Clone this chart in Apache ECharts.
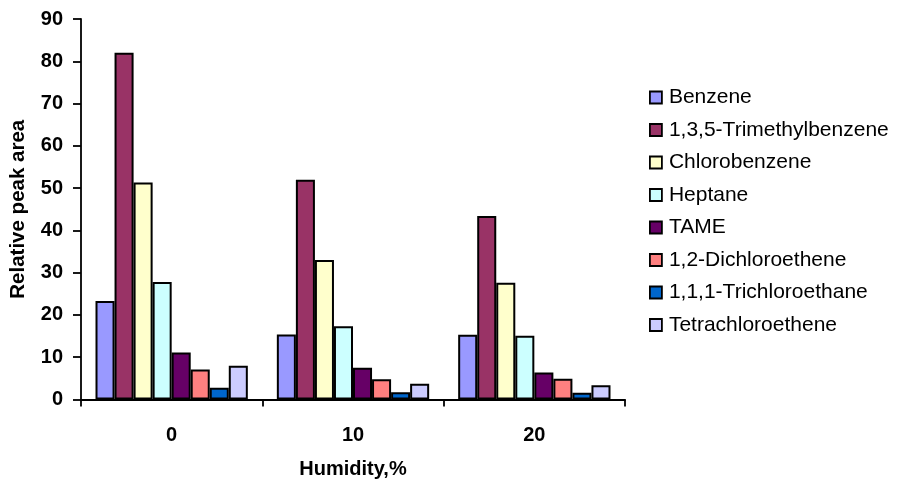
<!DOCTYPE html>
<html>
<head>
<meta charset="utf-8">
<script src="https://cdn.jsdelivr.net/npm/echarts@6/dist/echarts.min.js"></script>
<style>
  html, body { margin: 0; padding: 0; background: #fff; }
  #chart { width: 899px; height: 486px; }
</style>
</head>
<body>
<div id="chart"></div>
<script>
// Humidity levels (%) on the category axis
const humidity = ['0', '10', '20'];

// Relative peak area per compound at each humidity level
const benzene = [23.3, 15.4, 15.3];
const trimethylbenzene = [82.0, 52.0, 43.4];
const chlorobenzene = [51.3, 33.0, 27.6];
const heptane = [27.8, 17.3, 15.1];
const tame = [11.1, 7.5, 6.4];
const dichloroethene = [7.1, 4.8, 4.9];
const trichloroethane = [2.8, 1.7, 1.6];
const tetrachloroethene = [8.0, 3.7, 3.4];

const seriesNames = [
  'Benzene', '1,3,5-Trimethylbenzene', 'Chlorobenzene', 'Heptane',
  'TAME', '1,2-Dichloroethene', '1,1,1-Trichloroethane', 'Tetrachloroethene'
];
const seriesData = [
  benzene, trimethylbenzene, chlorobenzene, heptane,
  tame, dichloroethene, trichloroethane, tetrachloroethene
];
const seriesColors = [
  '#9999FF', '#993366', '#FFFFCC', '#CCFFFF',
  '#660066', '#FF8080', '#0066CC', '#CCCCFF'
];

const FONT = 'Arial, "Liberation Sans", sans-serif';

const chart = echarts.init(document.getElementById('chart'), null, { renderer: 'canvas' });

chart.setOption({
  animation: false,
  backgroundColor: '#ffffff',
  textStyle: { fontFamily: FONT },
  grid: { left: 81, right: 274, top: 19, bottom: 86.5, containLabel: false },
  legend: {
    orient: 'vertical',
    left: 644,
    top: 82,
    itemWidth: 12,
    itemHeight: 12,
    itemGap: 11.5,
    icon: 'rect',
    textStyle: { fontFamily: FONT, fontSize: 21, lineHeight: 21, color: '#000', padding: [0, 0, 0, 2] },
    itemStyle: { borderColor: '#000', borderWidth: 1.8 },
    data: seriesNames
  },
  xAxis: {
    type: 'category',
    data: humidity,
    name: 'Humidity,%',
    nameLocation: 'middle',
    nameGap: 60,
    nameTextStyle: { fontFamily: FONT, fontSize: 20, fontWeight: 'bold', color: '#000' },
    axisLine: { lineStyle: { color: '#000', width: 1.8 } },
    axisTick: { show: true, length: 7, alignWithLabel: false, lineStyle: { color: '#000', width: 1.8 } },
    axisLabel: { margin: 26, fontFamily: FONT, fontSize: 20, fontWeight: 'bold', color: '#000' },
    splitLine: { show: false }
  },
  yAxis: {
    type: 'value',
    min: 0,
    max: 90,
    interval: 10,
    name: 'Relative peak area',
    nameLocation: 'middle',
    nameGap: 52,
    nameTextStyle: { fontFamily: FONT, fontSize: 20.5, fontWeight: 'bold', color: '#000' },
    axisLine: { show: true, lineStyle: { color: '#000', width: 1.8 } },
    axisTick: { show: true, length: 8, lineStyle: { color: '#000', width: 1.8 } },
    axisLabel: { margin: 18, fontFamily: FONT, fontSize: 20, fontWeight: 'bold', color: '#000' },
    splitLine: { show: false }
  },
  series: seriesNames.map((name, i) => ({
    name: name,
    type: 'bar',
    data: seriesData[i],
    barGap: '0%',
    barCategoryGap: '16%',
    itemStyle: { color: seriesColors[i], borderColor: '#000', borderWidth: 2 }
  }))
});
</script>
</body>
</html>
